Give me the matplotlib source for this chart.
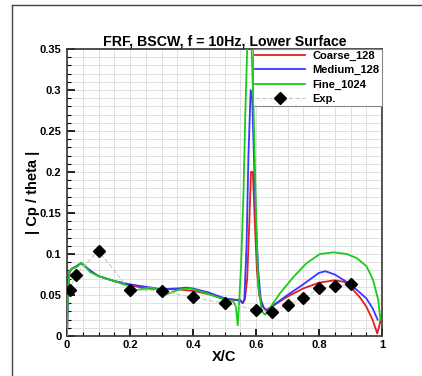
import matplotlib
matplotlib.use("Agg")
import matplotlib.pyplot as plt
from matplotlib.lines import Line2D
from matplotlib.ticker import MultipleLocator, FuncFormatter

plt.rcParams['font.family'] = ['Liberation Sans', 'DejaVu Sans']
plt.rcParams['font.weight'] = 'bold'

title = "FRF, BSCW, f = 10Hz, Lower Surface"

coarse_x = [0.0, 0.003, 0.008, 0.015, 0.03, 0.045, 0.06, 0.08, 0.1, 0.15, 0.2, 0.25, 0.3, 0.35, 0.4, 0.45, 0.5,
            0.55, 0.558, 0.565, 0.572, 0.578, 0.584, 0.59, 0.596, 0.603, 0.61, 0.62, 0.632, 0.65, 0.7, 0.75, 0.8,
            0.85, 0.88, 0.9, 0.93, 0.95, 0.97, 0.985, 0.993, 1.0]
coarse_y = [0.0, 0.05, 0.078, 0.082, 0.085, 0.089, 0.084, 0.078, 0.073, 0.067, 0.062, 0.058, 0.057, 0.057, 0.055, 0.051, 0.045,
            0.044, 0.040, 0.045, 0.07, 0.13, 0.20, 0.20, 0.14, 0.08, 0.05, 0.037, 0.031, 0.036, 0.048, 0.058, 0.065,
            0.068, 0.066, 0.060, 0.047, 0.036, 0.02, 0.003, 0.015, 0.028]

medium_x = [0.0, 0.003, 0.008, 0.015, 0.03, 0.045, 0.06, 0.08, 0.1, 0.15, 0.2, 0.25, 0.3, 0.35, 0.38, 0.4, 0.45, 0.5,
            0.55, 0.558, 0.563, 0.57, 0.576, 0.583, 0.588, 0.594, 0.6, 0.607, 0.615, 0.625, 0.635, 0.65, 0.7, 0.75,
            0.8, 0.82, 0.85, 0.9, 0.95, 0.97, 0.986]
medium_y = [0.0, 0.05, 0.078, 0.082, 0.085, 0.089, 0.084, 0.078, 0.073, 0.067, 0.063, 0.060, 0.057, 0.058, 0.059, 0.058, 0.053, 0.046,
            0.043, 0.040, 0.045, 0.11, 0.22, 0.30, 0.29, 0.21, 0.14, 0.08, 0.045, 0.034, 0.032, 0.036, 0.050, 0.063,
            0.077, 0.079, 0.075, 0.063, 0.046, 0.034, 0.020]

fine_x = [0.0, 0.003, 0.008, 0.015, 0.03, 0.045, 0.06, 0.073, 0.1, 0.158, 0.2, 0.22, 0.264, 0.285, 0.316, 0.359, 0.39,
          0.443, 0.496, 0.528, 0.536, 0.542, 0.547, 0.553, 0.56, 0.566, 0.572, 0.578, 0.586, 0.592, 0.597, 0.602,
          0.607, 0.618, 0.629, 0.644, 0.676, 0.719, 0.761, 0.803, 0.846, 0.888, 0.92, 0.951, 0.972, 0.988, 0.995]
fine_y = [0.0, 0.05, 0.079, 0.082, 0.084, 0.089, 0.084, 0.078, 0.073, 0.066, 0.060, 0.056, 0.059, 0.057, 0.051, 0.057, 0.058,
          0.052, 0.045, 0.042, 0.036, 0.013, 0.044, 0.09, 0.17, 0.27, 0.35, 0.37, 0.35, 0.28, 0.2, 0.12,
          0.064, 0.03, 0.026, 0.034, 0.052, 0.072, 0.089, 0.100, 0.102, 0.100, 0.095, 0.085, 0.068, 0.044, 0.02]

exp_x = [0.01, 0.028, 0.1, 0.2, 0.3, 0.4, 0.5, 0.6, 0.65, 0.7, 0.75, 0.8, 0.85, 0.9]
exp_y = [0.056, 0.075, 0.104, 0.056, 0.055, 0.047, 0.040, 0.032, 0.029, 0.038, 0.046, 0.058, 0.061, 0.063]

labels = ["Coarse_128", "Medium_128", "Fine_1024", "Exp."]
xticks = [0, 0.2, 0.4, 0.6, 0.8, 1.0]
yticks = [0, 0.05, 0.1, 0.15, 0.2, 0.25, 0.3, 0.35]

fig = plt.figure(figsize=(4.22, 3.76), dpi=100)
ax = fig.add_axes([67/422, 1-336/376, 315/422, 287/376])

ax.plot(coarse_x, coarse_y, color=(0.88, 0.12, 0.12), lw=1.3, label=labels[0], zorder=3)
ax.plot(medium_x, medium_y, color=(0.22, 0.22, 1.0), lw=1.3, label=labels[1], zorder=3)
ax.plot(fine_x, fine_y, color=(0.1, 0.8, 0.1), lw=1.3, label=labels[2], zorder=3)
ax.plot(exp_x, exp_y, color='#c8c8c8', lw=0.8, ls=(0, (4, 2)), marker='D', markersize=6,
        markerfacecolor='black', markeredgecolor='black', label=labels[3], zorder=4)

ax.set_xlim(0, 1)
ax.set_ylim(0, 0.35)
ax.set_xticks(xticks)
ax.set_yticks(yticks)
ax.xaxis.set_minor_locator(MultipleLocator(0.05))
ax.yaxis.set_minor_locator(MultipleLocator(0.01))
fmt = FuncFormatter(lambda v, p: ('%g' % round(v, 3)))
ax.xaxis.set_major_formatter(fmt)
ax.yaxis.set_major_formatter(fmt)
ax.grid(True, which='both', color='#e0e0e0', lw=0.7, zorder=0)
ax.set_axisbelow(True)
ax.tick_params(which='major', direction='in', length=6, width=1.2, labelsize=8, top=False, right=False)
ax.tick_params(axis='x', which='major', pad=3)
ax.tick_params(axis='y', which='major', pad=4)
ax.tick_params(which='minor', direction='in', length=3, width=0.8, top=False, right=False)
for s in ax.spines.values():
    s.set_linewidth(1.2)
    s.set_color('#333333')
for lab in ax.get_xticklabels() + ax.get_yticklabels():
    lab.set_fontweight('bold')

ax.set_title(title, fontsize=10.2, fontweight='bold', pad=2)
ax.set_xlabel("X/C", fontsize=10.5, fontweight='bold', labelpad=0)
ax.set_ylabel("| Cp / theta |", fontsize=10.5, fontweight='bold', labelpad=0)

leg = ax.legend(loc='upper right', borderaxespad=0, fancybox=False, edgecolor='#888888', framealpha=1,
                fontsize=8, handlelength=4.5, handletextpad=0.7, labelspacing=0.36, borderpad=0.2)
leg.get_frame().set_linewidth(0.8)
for t in leg.get_texts():
    t.set_fontweight('bold')

fig.add_artist(Line2D([12/422, 12/422], [0, 1-4.5/376], color='#444444', lw=1.0))
fig.add_artist(Line2D([12/422, 1], [1-4.5/376, 1-4.5/376], color='#444444', lw=1.0))

fig.savefig("out.png", dpi=100)
